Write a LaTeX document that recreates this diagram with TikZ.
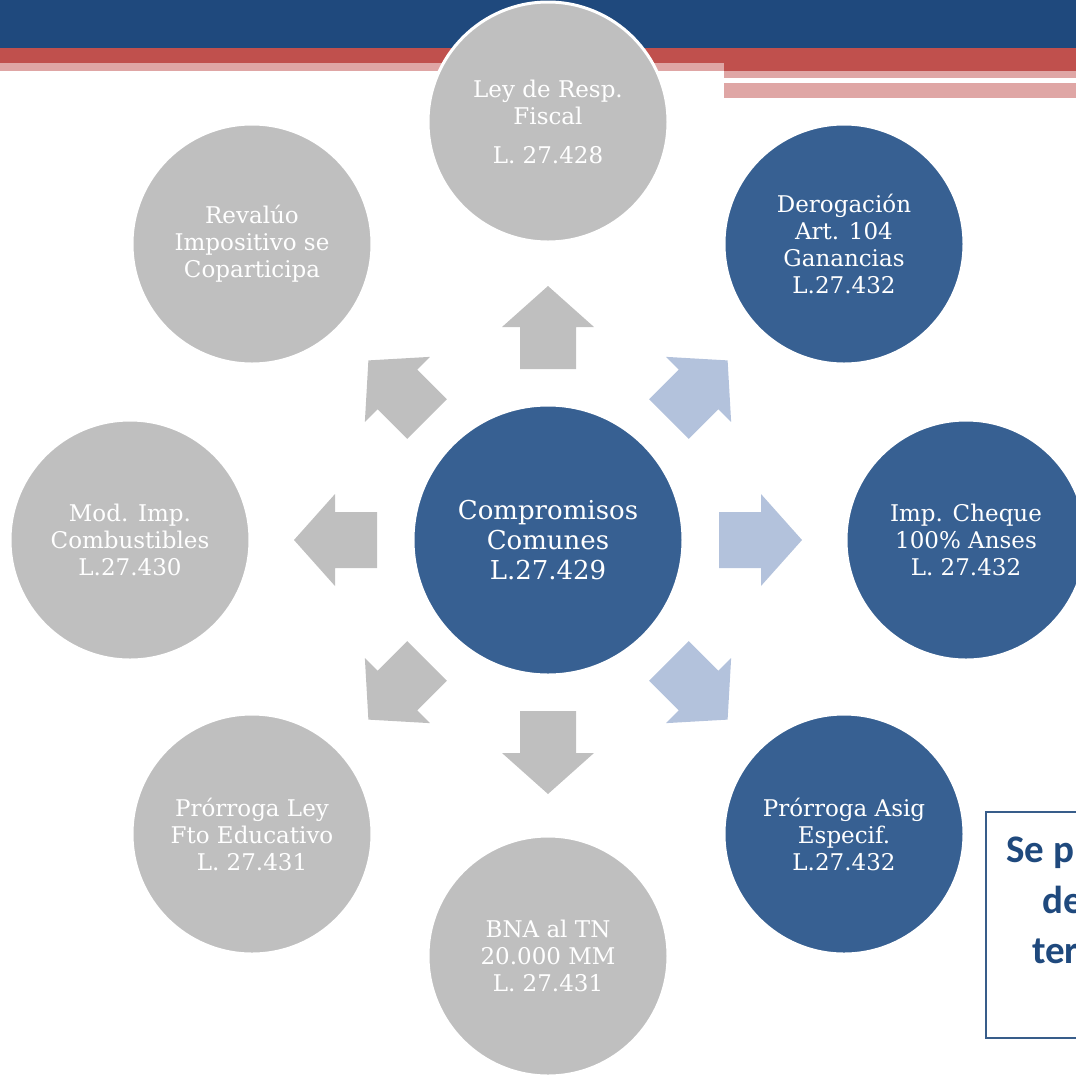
\documentclass[tikz,border=0pt]{standalone}
\usepackage{fontspec}
\setmainfont{DejaVu Serif}
\newfontfamily\boxfont{Carlito}
\definecolor{hdrblue}{HTML}{1F497D}
\definecolor{hdrred}{HTML}{C0504D}
\definecolor{hdrpink}{HTML}{DFA6A5}
\definecolor{circgray}{HTML}{BFBFBF}
\definecolor{circblue}{HTML}{376092}
\definecolor{arrblue}{HTML}{B3C2DC}
\definecolor{boxblue}{HTML}{385D8A}
\tikzset{
  gcirc/.style={circle, fill=circgray, draw=white, line width=3pt, minimum size=240pt,
    inner sep=0pt, text=white, align=center, font=\fontsize{23}{27}\selectfont},
  bcirc/.style={gcirc, fill=circblue},
  boxtext/.style={anchor=base west, inner sep=0pt, text=hdrblue, font=\boxfont\bfseries\fontsize{39}{40}\selectfont}
}
\begin{document}
\begin{tikzpicture}[x=1pt, y=-1pt]
  \clip (0,0) rectangle (1076,1080);
  % header bars
  \fill[hdrblue] (0,0) rectangle (1076,48);
  \fill[hdrred] (0,48) rectangle (1076,71);
  \fill[hdrpink] (0,63) rectangle (724,71);
  \fill[hdrpink] (724,71) rectangle (1076,78);
  \fill[hdrpink] (724,83) rectangle (1076,98);
  % arrows
  \foreach \a/\c in {90/circgray, 45/arrblue, 0/arrblue, -45/arrblue,
                     -90/circgray, -135/circgray, 180/circgray, 135/circgray}{
    \begin{scope}[shift={(548,540)}, rotate=\a]
      \fill[\c] (171,-28) -- (213,-28) -- (213,-46) -- (254,0)
        -- (213,46) -- (213,28) -- (171,28) -- cycle;
    \end{scope}
  }
  % circles
  \node[bcirc, minimum size=270pt, font=\fontsize{26}{30}\selectfont] (comunes) at (548,540) {Compromisos\\Comunes\\L.27.429};
  \node[gcirc] (fiscal) at (548,122) {Ley de Resp.\\Fiscal\\[12pt]L. 27.428};
  \node[bcirc] (ganancias) at (844,244) {Derogación\\Art. 104\\Ganancias\\L.27.432};
  \node[bcirc] (cheque) at (966,540) {Imp. Cheque\\100\% Anses\\L. 27.432};
  \node[bcirc] (asig) at (844,834) {Prórroga Asig\\Especif.\\L.27.432};
  \node[gcirc] (bna) at (548,956) {BNA al TN\\20.000 MM\\L. 27.431};
  \node[gcirc] (educ) at (252,834) {Prórroga Ley\\Fto Educativo\\L. 27.431};
  \node[gcirc] (combust) at (130,540) {Mod. Imp.\\Combustibles\\L.27.430};
  \node[gcirc] (revaluo) at (252,244) {Revalúo\\Impositivo se\\Coparticipa};
  % text box at the edge
  \draw[boxblue, line width=1.5pt] (986,812) rectangle (1110,1038);
  \node[boxtext] (boxl1) at (1006,862) {Se p};
  \node[boxtext] (boxl2) at (1042,913) {de};
  \node[boxtext] (boxl3) at (1032,963) {ter};
\end{tikzpicture}
\end{document}
